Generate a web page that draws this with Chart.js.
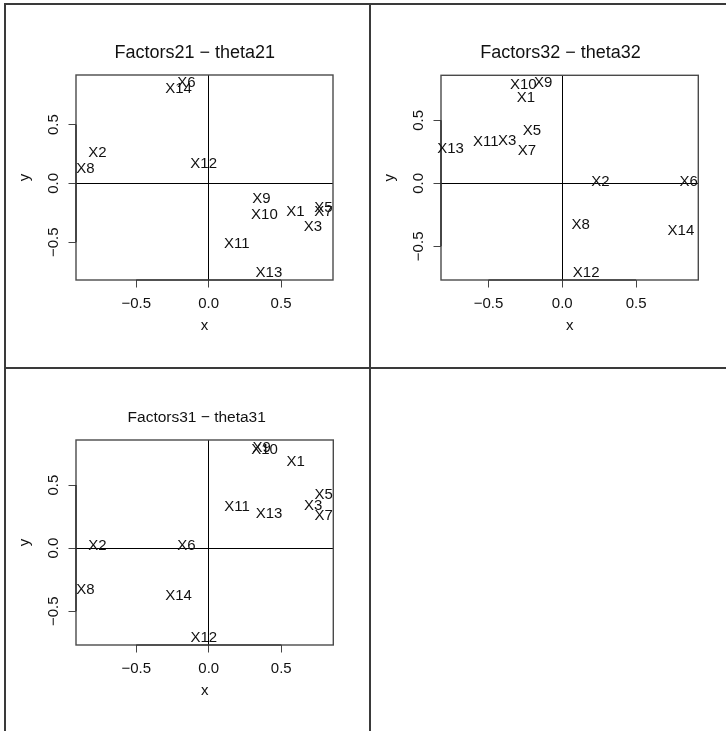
<!DOCTYPE html>
<html>
<head>
<meta charset="utf-8">
<script src="https://cdn.jsdelivr.net/npm/chart.js@4.4.0/dist/chart.umd.min.js"></script>
<style>
  body { margin: 0; background: #fff; }
  #page { position: relative; width: 726px; height: 731px; overflow: hidden; background: #fff; }
  .cell { position: absolute; }
  .rule { position: absolute; background: #3a3a3a; }
</style>
</head>
<body>
<div id="page">
  <div class="cell" style="left:0;top:0"><canvas id="c21" width="369" height="367"></canvas></div>
  <div class="cell" style="left:371px;top:0"><canvas id="c32" width="355" height="367"></canvas></div>
  <div class="cell" style="left:0;top:369px"><canvas id="c31" width="369" height="362"></canvas></div>
  <div class="rule" style="left:4px;top:3px;width:722px;height:2px"></div>
  <div class="rule" style="left:4px;top:3px;width:2px;height:728px"></div>
  <div class="rule" style="left:369px;top:3px;width:2px;height:728px"></div>
  <div class="rule" style="left:4px;top:367px;width:722px;height:2px"></div>
</div>
<script>
// loadings (X4 is not plotted)
const varNames = ['X1', 'X2', 'X3', 'X5', 'X6', 'X7', 'X8', 'X9', 'X10', 'X11', 'X12', 'X13', 'X14'];
const factor1 = [0.60, -0.768, 0.72, 0.793, -0.154, 0.793, -0.85, 0.365, 0.385, 0.195, -0.034, 0.416, -0.208];
const factor2 = [-0.246, 0.259, -0.373, -0.205, 0.857, -0.24, 0.124, -0.13, -0.264, -0.518, 0.162, -0.757, 0.804];
const factor3 = [0.68, 0.015, 0.336, 0.42, 0.015, 0.26, -0.33, 0.797, 0.78, 0.33, -0.707, 0.275, -0.375];
const tickValues = [-0.5, 0, 0.5];
const tickLabels = ['\u22120.5', '0.0', '0.5'];

const FONT = '"Liberation Sans", Arial, Helvetica, sans-serif';
const INK = '#111';
const FRAME = '#444';
const PAD_LEFT = 8;

// R pads the data range by 4% on each side
function rRange(v) {
    const lo = Math.min(...v), hi = Math.max(...v), pad = (hi - lo) * 0.04;
    return [lo - pad, hi + pad];
}

const boxPlugin = {
    id: 'box',
    afterLayout(chart, args, opts) {
        // R centres main a little left of the plot box; move the title block to match
        const tb = chart.titleBlock;
        if (tb && opts.titleX) tb.left = 2 * opts.titleX - tb.right;
    },
    beforeDatasetsDraw(chart) {
        const a = chart.chartArea, ctx = chart.ctx;
        const xs = chart.scales.x, ys = chart.scales.y;
        const first = tickValues[0], last = tickValues[tickValues.length - 1];
        ctx.save();
        ctx.strokeStyle = '#4a4a4a';
        ctx.lineWidth = 1.4;
        ctx.strokeRect(a.left, a.top, a.right - a.left, a.bottom - a.top);
        // axis lines only span first..last tick, as in R
        ctx.strokeStyle = '#222';
        ctx.lineWidth = 1.2;
        ctx.beginPath();
        ctx.moveTo(xs.getPixelForValue(first), a.bottom);
        ctx.lineTo(xs.getPixelForValue(last), a.bottom);
        ctx.moveTo(a.left, ys.getPixelForValue(first));
        ctx.lineTo(a.left, ys.getPixelForValue(last));
        ctx.stroke();
        ctx.restore();
    }
};

const namePlugin = {
    id: 'names',
    afterDatasetsDraw(chart) {
        const ctx = chart.ctx;
        const meta = chart.getDatasetMeta(0);
        ctx.save();
        ctx.font = '15px ' + FONT;
        ctx.fillStyle = INK;
        ctx.textAlign = 'center';
        ctx.textBaseline = 'middle';
        meta.data.forEach((pt, i) => ctx.fillText(varNames[i], pt.x, pt.y));
        ctx.restore();
    }
};

const panels = [
    { id: 'c21', title: 'Factors21 \u2212 theta21', xs: factor1, ys: factor2, W: 369, H: 367, area: [76, 75, 333, 280], titleX: 194.7, titleY: 53.5, titleSize: 18 },
    { id: 'c32', title: 'Factors32 \u2212 theta32', xs: factor2, ys: factor3, W: 355, H: 367, area: [70, 75.3, 327.3, 280], titleX: 189.5, titleY: 53.5, titleSize: 18 },
    { id: 'c31', title: 'Factors31 \u2212 theta31', xs: factor1, ys: factor3, W: 369, H: 362, area: [76, 71, 333.3, 276], titleX: 196.7, titleY: 49, titleSize: 15.5 }
];

function buildPanel(p) {
    const [l, t, r, b] = p.area;
    const axisFont = { family: FONT, size: 15, lineHeight: 1.2 };
    const lh = 15 * 1.2;
    const tLh = p.titleSize * 1.2;
    const xAxisH = 60;
    const [xMin, xMax] = rRange(p.xs);
    const [yMin, yMax] = rRange(p.ys);
    const zeroLine = c => (c.tick && c.tick.value === 0) ? '#000' : 'rgba(0,0,0,0)';
    const label = v => tickLabels[tickValues.indexOf(v)];

    new Chart(document.getElementById(p.id), {
        type: 'scatter',
        data: {
            datasets: [{
                data: p.xs.map((x, i) => ({ x: x, y: p.ys[i] })),
                pointRadius: 0,
                pointHoverRadius: 0
            }]
        },
        options: {
            responsive: false,
            animation: false,
            events: [],
            layout: { padding: { left: PAD_LEFT, right: p.W - r, top: 0, bottom: p.H - b - xAxisH } },
            plugins: {
                legend: { display: false },
                tooltip: { enabled: false },
                box: { titleX: p.titleX },
                title: {
                    display: true,
                    text: p.title,
                    color: INK,
                    font: { family: FONT, size: p.titleSize, weight: 'normal', lineHeight: 1.2 },
                    padding: { top: p.titleY - tLh / 2, bottom: t - p.titleY - tLh / 2 }
                }
            },
            scales: {
                x: {
                    type: 'linear',
                    min: xMin,
                    max: xMax,
                    afterBuildTicks: s => { s.ticks = tickValues.map(v => ({ value: v })); },
                    afterFit: s => { s.height = xAxisH; },
                    ticks: { color: INK, font: axisFont, padding: 7.5, maxRotation: 0, callback: label },
                    grid: { color: zeroLine, tickColor: FRAME, tickLength: 7.5, lineWidth: 1 },
                    border: { display: false },
                    title: { display: true, text: 'x', color: INK, font: axisFont, padding: { top: 0, bottom: 5 } }
                },
                y: {
                    type: 'linear',
                    min: yMin,
                    max: yMax,
                    afterBuildTicks: s => { s.ticks = tickValues.map(v => ({ value: v })); },
                    afterFit: s => { s.width = l - PAD_LEFT; },
                    ticks: { color: INK, font: axisFont, padding: 0, minRotation: 90, maxRotation: 90, crossAlign: 'center', callback: label },
                    grid: { color: zeroLine, tickColor: FRAME, tickLength: 7.5, lineWidth: 1 },
                    border: { display: false },
                    title: { display: true, text: 'y', color: INK, font: axisFont, padding: { top: (l - 51) - PAD_LEFT - lh / 2, bottom: 0 } }
                }
            }
        },
        plugins: [boxPlugin, namePlugin]
    });
}

panels.forEach(buildPanel);
</script>
</body>
</html>
